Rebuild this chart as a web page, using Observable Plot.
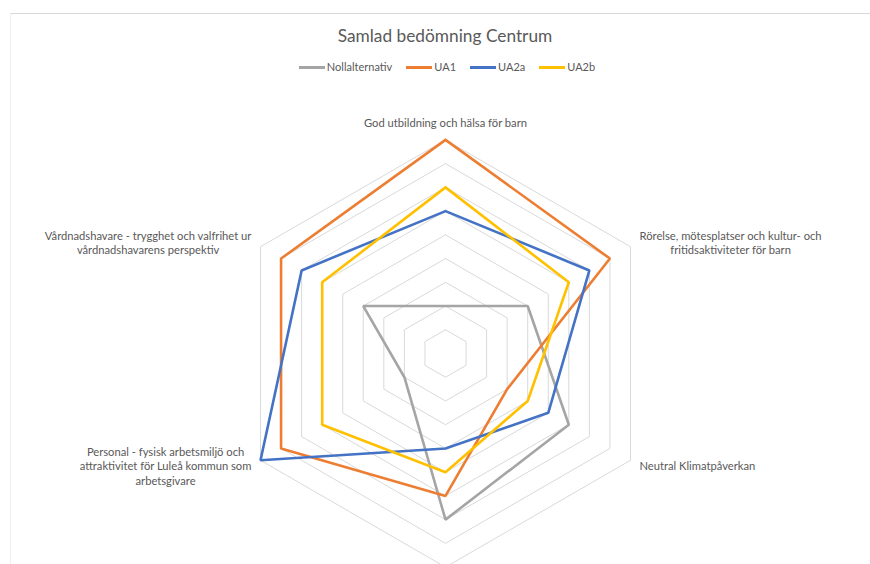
<!DOCTYPE html>
<html><head><meta charset="utf-8">
<script src="https://cdn.jsdelivr.net/npm/d3@7"></script>
<script src="https://cdn.jsdelivr.net/npm/@observablehq/plot@0.6"></script>
<style>
html,body{margin:0;padding:0;}
body{width:870px;height:564px;overflow:hidden;background:#fff;font-family:Lato,"Open Sans",sans-serif;position:relative;}
#frame{position:absolute;left:10px;top:13px;right:0;bottom:-2px;border-top:1px solid #d9d9d9;border-left:1px solid #efefef;}
#title{position:absolute;left:20px;width:850px;top:26px;line-height:20px;text-align:center;font-size:17.3px;color:#595959;}
#legend{position:absolute;left:22px;width:850px;top:60px;line-height:14px;display:flex;justify-content:center;font-size:11px;color:#595959;}
.item{display:flex;align-items:center;margin:0 7px;}
.sw{display:inline-block;width:26px;height:3px;margin-right:2px;}
#chart{position:absolute;left:0;top:88px;}
</style>
</head><body>
<div id="frame"></div>
<div id="title">Samlad bedömning Centrum</div>
<div id="legend"></div>
<div id="chart"></div>
<script>
// ---- data ----
const categories = [
  "God utbildning och hälsa för barn",
  "Rörelse, mötesplatser och kultur- och fritidsaktiviteter för barn",
  "Neutral Klimatpåverkan",
  "(nedre axel)",
  "Personal - fysisk arbetsmiljö och attraktivitet för Luleå kommun som arbetsgivare",
  "Vårdnadshavare - trygghet och valfrihet ur vårdnadshavarens perspektiv"
];
// label of the bottom axis lies outside the visible picture, so it is left empty
const axisLabels = [
  "God utbildning och hälsa för barn",
  "Rörelse, mötesplatser och kultur- och\nfritidsaktiviteter för barn",
  "Neutral Klimatpåverkan",
  "",
  "Personal - fysisk arbetsmiljö och\nattraktivitet för Luleå kommun som\narbetsgivare",
  "Vårdnadshavare - trygghet och valfrihet ur\nvårdnadshavarens perspektiv"
];
const seriesNames = ["Nollalternativ", "UA1", "UA2a", "UA2b"];
const nollalternativ = [2, 4, 6, 7, 2, 4];
const ua1 = [9, 8, 3, 6, 8, 8];
const ua2a = [6, 7, 5, 4, 9, 7];
const ua2b = [7, 6, 4, 5, 6, 6];
const seriesColors = ["#A5A5A5", "#ED7D31", "#4472C4", "#FFC000"];
const gridLevels = [1, 2, 3, 4, 5, 6, 7, 8, 9];
const maxValue = 9;

// ---- layout ----
const W = 870, H = 500;
const cx = 445, cy = 265;      // centre in svg px
const k = 213.6 / maxValue;    // px per unit
const n = categories.length;
const ang = i => i * 2 * Math.PI / n;
const px = (v, i) => v * Math.sin(ang(i));
const py = (v, i) => v * Math.cos(ang(i));

const allSeries = [nollalternativ, ua1, ua2a, ua2b];
const seriesRows = [];
allSeries.forEach((vals, s) => {
  for (let j = 0; j <= n; j++) {
    const i = j % n;
    seriesRows.push({series: seriesNames[s], x: px(vals[i], i), y: py(vals[i], i)});
  }
});
const gridRows = [];
gridLevels.forEach(r => {
  for (let j = 0; j <= n; j++) {
    const i = j % n;
    gridRows.push({ring: r, x: px(r, i), y: py(r, i)});
  }
});

// legend
const leg = document.getElementById("legend");
seriesNames.forEach((s, i) => {
  const it = document.createElement("div"); it.className = "item";
  const sw = document.createElement("span"); sw.className = "sw"; sw.style.background = seriesColors[i];
  const tx = document.createElement("span"); tx.textContent = s;
  it.appendChild(sw); it.appendChild(tx); leg.appendChild(it);
});

// label measurement
const fontSize = 11.2;
const ctx = document.createElement("canvas").getContext("2d");
ctx.font = `${fontSize}px Lato`;
const blockW = t => Math.max(...t.split("\n").map(l => ctx.measureText(l).width));

const labelMarks = axisLabels.map((t, i) => {
  if (!t) return null;
  const d = [{x: px(maxValue, i), y: py(maxValue, i), t}];
  const a = ang(i);
  const s = Math.sin(a), c = Math.cos(a);
  let opts = {x: "x", y: "y", text: "t", fill: "#595959", fontSize, lineHeight: 1.29, lineAnchor: "middle", fontFamily: "Lato"};
  if (Math.abs(s) < 1e-6) {
    opts.textAnchor = "middle";
    opts.dy = c > 0 ? -18 : 18;
  } else {
    const w = blockW(t);
    opts.textAnchor = "middle";
    opts.dx = (s > 0 ? 1 : -1) * (9 + w / 2);
    opts.dy = c > 0 ? -4.5 : 5.5;
  }
  return Plot.text(d, opts);
}).filter(Boolean);

const chart = Plot.plot({
  width: W, height: H,
  marginTop: 0, marginRight: 0, marginBottom: 0, marginLeft: 0,
  x: {domain: [-cx / k, (W - cx) / k], axis: null},
  y: {domain: [-(H - cy) / k, cy / k], axis: null},
  color: {domain: seriesNames, range: seriesColors},
  style: {background: "transparent"},
  marks: [
    Plot.line(gridRows, {x: "x", y: "y", z: "ring", stroke: "#d9d9d9", strokeWidth: 1}),
    Plot.line(seriesRows, {x: "x", y: "y", z: "series", stroke: "series", strokeWidth: 2.6, strokeLinejoin: "miter"}),
    ...labelMarks
  ]
});
document.getElementById("chart").appendChild(chart);
</script>
</body></html>
